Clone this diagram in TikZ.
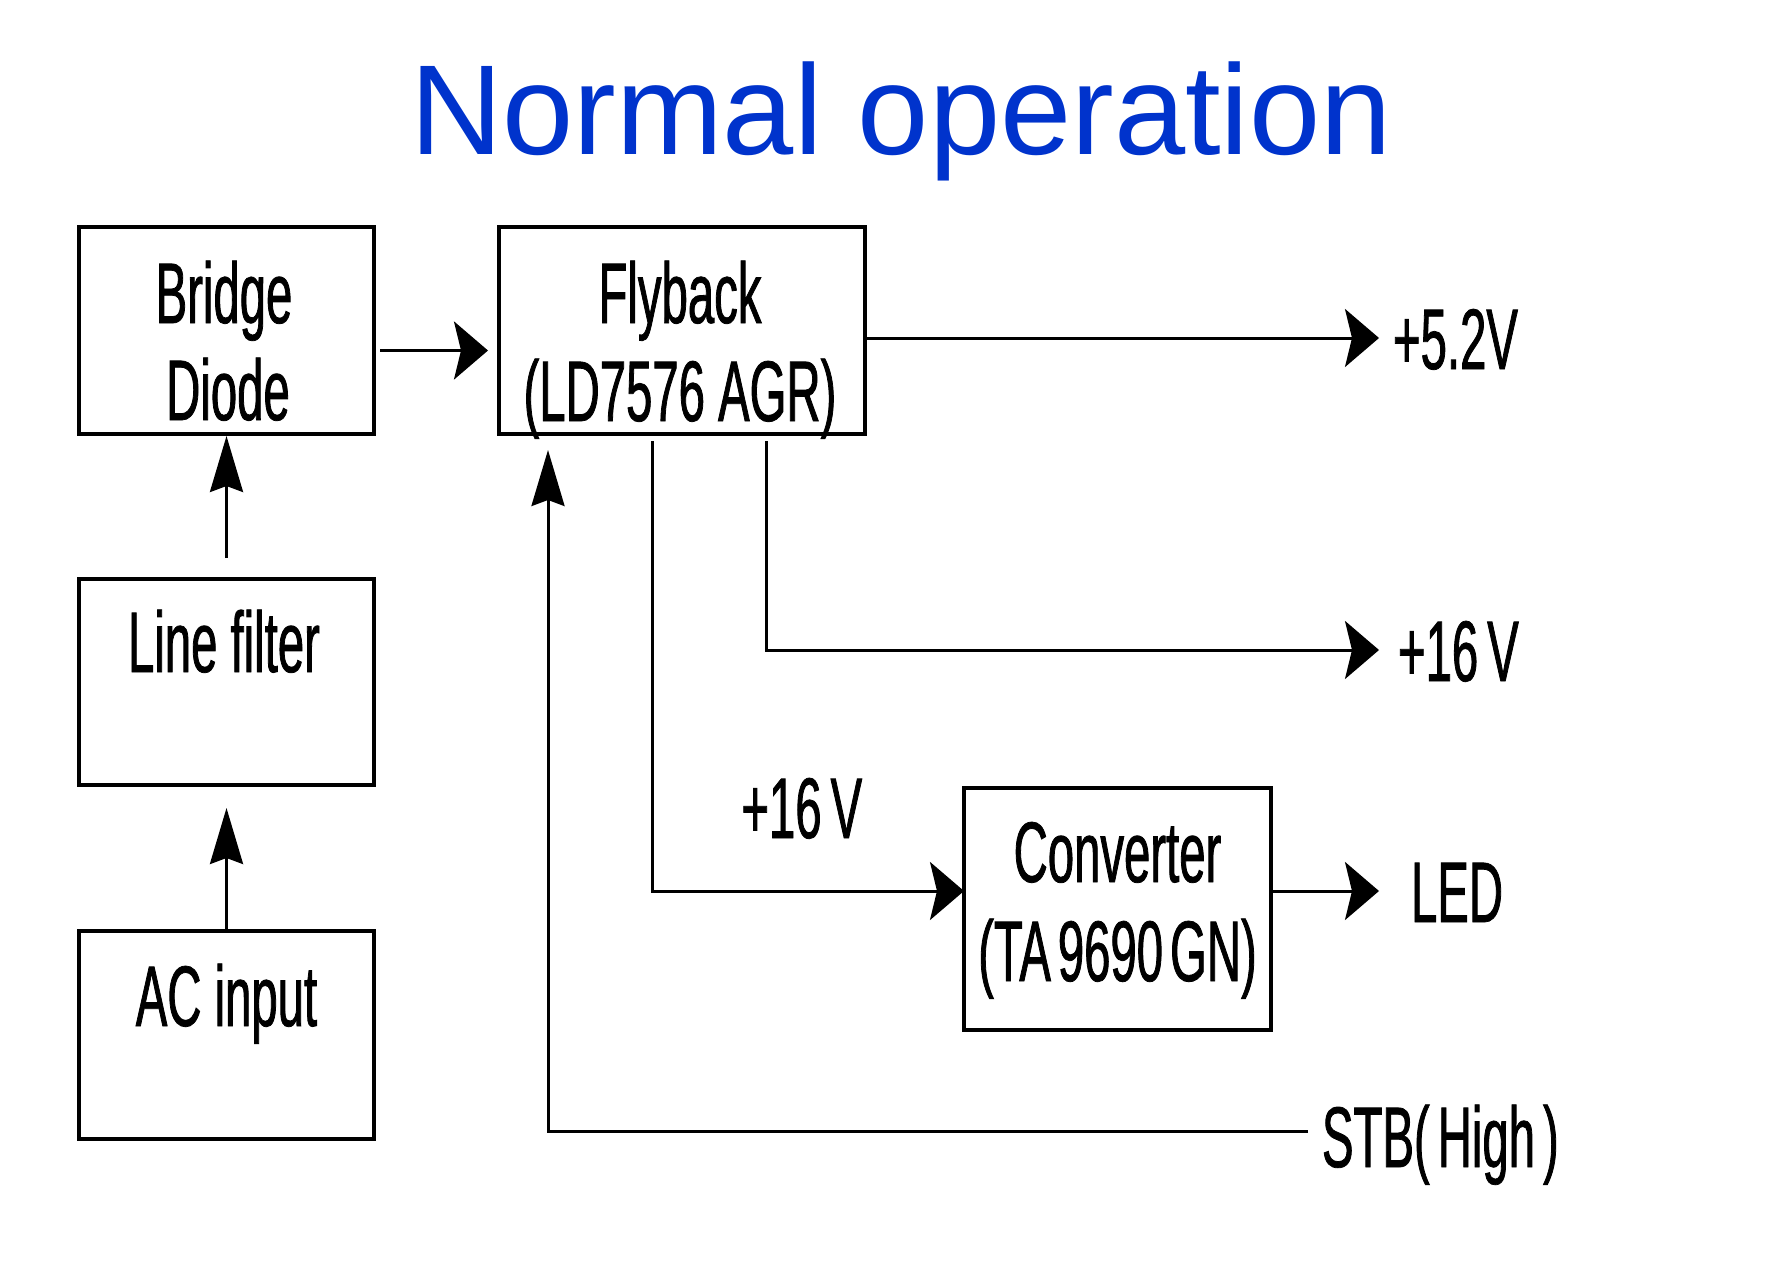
\documentclass[tikz,border=0pt]{standalone}
\usepackage{fontspec}
\setmainfont{Liberation Sans}
\newfontfamily\narrowsans[FakeStretch=0.55, FakeBold=0.9]{Liberation Sans}
\usetikzlibrary{arrows.meta,calc}
\definecolor{titleblue}{RGB}{0,51,204}

\begin{document}
\begin{tikzpicture}[x=0.5pt, y=-0.5pt,
  blk/.style={draw, line width=1.7pt, inner sep=0pt, outer sep=0pt},
  txt/.style={font=\narrowsans\fontsize{43}{49}\selectfont, inner sep=0pt, anchor=base},
  outlbl/.style={font=\narrowsans\fontsize{43}{49}\selectfont, anchor=west, inner ysep=0pt, inner xsep=7pt, outer sep=0pt, text height=31pt, text depth=0pt},
  wire/.style={line width=1.5pt},
  harr/.style={wire, -{Stealth[length=17pt, width=29pt, inset=3.5pt]}},
  varr/.style={wire, -{Stealth[length=28pt, width=16.5pt, inset=3pt]}}]
\useasboundingbox (0,0) rectangle (1787,1263);
% title
\node[font=\fontsize{64}{70}\selectfont, text=titleblue, anchor=base] (title) at (901,155) {Normal operation};
% blocks
\node[blk, minimum width=147.5pt, minimum height=103.5pt] (bridge) at (226.5,330.5) {};
\node[blk, minimum width=183pt, minimum height=103.5pt] (flyback) at (682,330.5) {};
\node[blk, minimum width=147.5pt, minimum height=103pt] (filter) at (226.5,682) {};
\node[blk, minimum width=147.5pt, minimum height=104pt] (acin) at (226.5,1035) {};
\node[blk, minimum width=153.5pt, minimum height=121pt] (conv) at (1117.5,909) {};
% block texts
\node[txt] (tbr1) at (224,323) {Bridge};
\node[txt] (tbr2) at (228,420) {Diode};
\node[txt] (tfb1) at (680,323) {Flyback};
\node[txt] (tfb2) at (680,421) {(LD7576 AGR)};
\node[txt] (tlf) at (224,672) {Line filter};
\node[txt] (tac) at (226.5,1026) {AC input};
\node[txt] (tcv1) at (1117.5,882) {Converter};
\node[txt] (tcv2) at (1117.5,981) {(TA\kern3.5pt9690\kern3.5ptGN)};
% outputs
\node[outlbl] (v52) at (1379,338) {+5.2V};
\node[outlbl, inner xsep=9.5pt] (v16) at (1379,650) {+16\kern4.5pt V};
\node[outlbl, inner xsep=16pt] (led) at (1379,891) {LED};
\node[outlbl] (stb) at (1308,1136) {STB(\kern4pt High\kern4pt)};
\node[txt, anchor=base west] (v16b) at (741,838) {+16\kern4.5pt V};
\coordinate (tap1) at (652,434);
\coordinate (tap2) at (766,434);
% connectors
\draw[varr, shorten <=1pt, shorten >=11.5pt] (acin.north) -- (filter.south);
\draw[varr, shorten <=10.5pt, shorten >=1pt] (filter.north) -- (bridge.south);
\draw[harr, shorten <=3pt, shorten >=5.5pt] ($(bridge.east)+(0,20)$) -- ($(flyback.west)+(0,20)$);
\draw[harr] (flyback.east |- v52.west) -- (v52.west);
\draw[harr, shorten <=3.5pt] (tap2) |- (v16.west);
\draw[harr, shorten <=3.5pt] (tap1) |- ($(conv.west)+(0,-18)$);
\draw[harr] ($(conv.east)+(0,-18)$) -- (led.west);
\draw[varr, shorten >=8pt] ($(stb.west)+(0,-5)$) -| ($(flyback.south)+(-134,0)$);
\end{tikzpicture}
\end{document}
